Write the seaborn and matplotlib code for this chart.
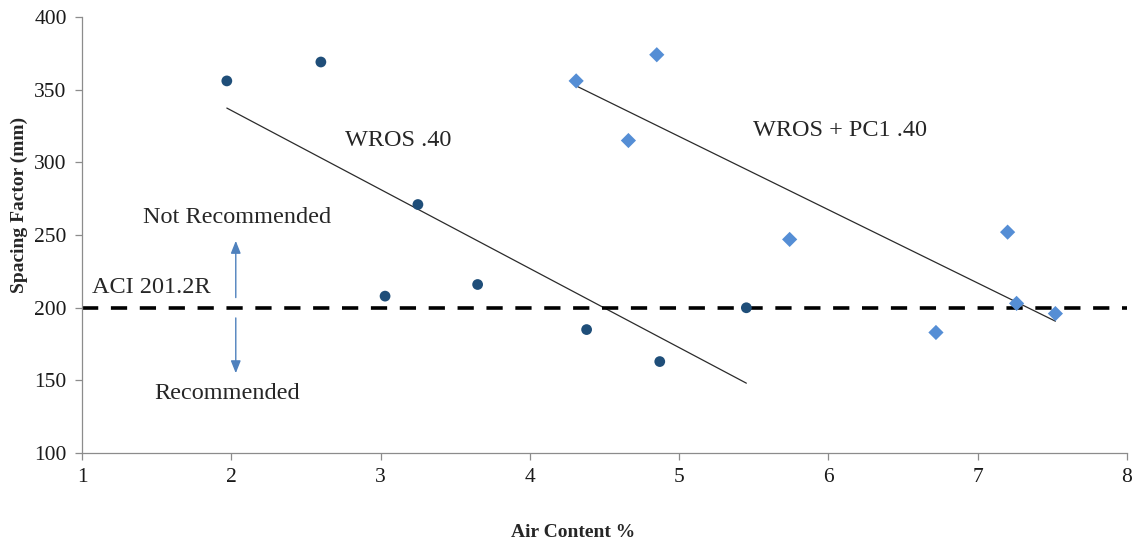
import matplotlib
matplotlib.use("Agg")
import matplotlib.pyplot as plt
import pandas as pd
import seaborn as sns

# WROS .40 (circles)
wros_air = [1.97, 2.60, 3.25, 3.03, 3.65, 4.38, 4.87, 5.45]
wros_sf = [356, 369, 271, 208, 216, 185, 163, 200]

# WROS + PC1 .40 (diamonds)
pc1_air = [4.31, 4.85, 4.66, 5.74, 6.72, 7.20, 7.26, 7.52]
pc1_sf = [356, 374, 315, 247, 183, 252, 203, 196]

aci_limit = 200
series_names = ["WROS .40", "WROS + PC1 .40"]
colors = {"WROS .40": "#1F4E79", "WROS + PC1 .40": "#558ED5"}
markers = {"WROS .40": "o", "WROS + PC1 .40": "D"}

df = pd.concat([
    pd.DataFrame({"air": wros_air, "sf": wros_sf, "mix": series_names[0]}),
    pd.DataFrame({"air": pc1_air, "sf": pc1_sf, "mix": series_names[1]}),
], ignore_index=True)

sns.set_style("white")
plt.rcParams["font.family"] = ["Liberation Serif", "DejaVu Serif"]

fig = plt.figure(figsize=(11.39, 5.46), dpi=100)
ax = fig.add_axes([0.072, 0.170, 0.9175, 0.799])

# linear trendlines over each series' range
for name in series_names:
    sub = df[df["mix"] == name]
    sns.regplot(data=sub, x="air", y="sf", ax=ax, scatter=False, ci=None,
                truncate=True, line_kws={"color": "#2b2b2b", "lw": 0.9})

sns.scatterplot(data=df, x="air", y="sf", hue="mix", style="mix",
                palette=colors, markers=markers, ax=ax, legend=False,
                s=60, linewidth=0, zorder=3)

ax.axhline(aci_limit, color="black", lw=2.6, linestyle=(0, (4.5, 3.5)), zorder=2)

ax.set_xlim(1, 8)
ax.set_ylim(100, 400)
ax.set_xticks(range(1, 9))
ax.set_yticks(range(100, 401, 50))
sns.despine(ax=ax)
for side in ["left", "bottom"]:
    ax.spines[side].set_color("#8c8c8c")
    ax.spines[side].set_linewidth(0.9)
ax.tick_params(axis="both", which="major", direction="out", length=5,
               width=0.9, color="#8c8c8c", labelsize=15.5, labelcolor="#1a1a1a",
               bottom=True, left=True, pad=6)

ax.set_xlabel("Air Content %", fontsize=14, fontweight="bold")
ax.set_ylabel("Spacing Factor (mm)", fontsize=14, fontweight="bold")
ax.xaxis.set_label_coords((573 - 82) / 1045, -0.163)
ax.yaxis.set_label_coords(-0.052, 0.569)

ax.text(3.12, 315, "WROS .40", fontsize=17.5, ha="center", va="center")
ax.text(6.08, 322, "WROS + PC1 .40", fontsize=17.5, ha="center", va="center")
ax.text(2.04, 262, "Not Recommended", fontsize=17.5, ha="center", va="center")
ax.text(1.97, 141, "Recommended", fontsize=17.5, ha="center", va="center")
ax.text(1.07, 214, "ACI 201.2R", fontsize=17.5, ha="left", va="center")

arrow_kw = dict(arrowstyle="-|>,head_width=0.3,head_length=0.75",
                color="#4F81BD", lw=1.0, shrinkA=0, shrinkB=0)
ax.annotate("", xy=(2.03, 246), xytext=(2.03, 207), arrowprops=arrow_kw)
ax.annotate("", xy=(2.03, 155), xytext=(2.03, 193), arrowprops=arrow_kw)

fig.savefig("out.png", dpi=100)
plt.close(fig)
